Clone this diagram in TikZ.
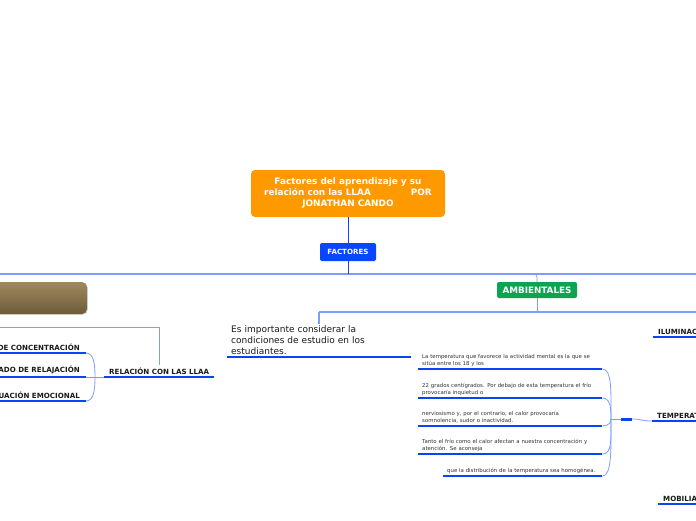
\documentclass[tikz,border=0pt]{standalone}
\usepackage{fontspec}
\setmainfont{DejaVu Sans}
\usetikzlibrary{shadows}
\definecolor{rootorange}{HTML}{FF9900}
\definecolor{factblue}{HTML}{0A46FF}
\definecolor{ulblue}{HTML}{0A45F5}
\definecolor{lightln}{HTML}{7C9CFF}
\definecolor{darkln}{HTML}{1040FF}
\definecolor{ambgreen}{HTML}{0BA552}
\definecolor{brownT}{HTML}{A08A5D}
\definecolor{brownB}{HTML}{6C5A3A}
\definecolor{txtdark}{HTML}{1A1A1A}
\definecolor{txtgray}{HTML}{333333}
\tikzset{
  rootbox/.style={fill=rootorange, rounded corners=4pt, minimum width=194pt, minimum height=47pt,
    text=white, align=center, inner sep=0pt, font=\fontsize{8.9}{11}\selectfont\bfseries},
  factbox/.style={fill=factblue, rounded corners=2pt, minimum width=56pt, minimum height=18pt,
    text=white, inner sep=0pt, font=\fontsize{7.1}{8}\selectfont\bfseries},
  ambbox/.style={fill=ambgreen, rounded corners=2pt, minimum width=80pt, minimum height=16pt,
    text=white, inner sep=0pt, font=\fontsize{8.8}{10}\selectfont\bfseries},
  brownbox/.style={top color=brownT, bottom color=brownB, draw=none, rounded corners=5pt,
    minimum width=116pt, minimum height=32pt,
    drop shadow={shadow xshift=0.8pt, shadow yshift=-0.8pt, opacity=0.3}},
  caplabel/.style={text=txtdark, inner xsep=5pt, inner ysep=2.5pt, font=\fontsize{7.1}{8}\selectfont\bfseries},
  estext/.style={text=txtdark, align=left, text width=176pt, inner xsep=4pt, inner ysep=2pt,
    font=\fontsize{9}{11}\selectfont},
  smalltext/.style={text=txtgray, align=left, inner xsep=4pt, inner ysep=2.2pt,
    font=\fontsize{5.4}{7}\selectfont},
  ul/.style={draw=ulblue, line width=2.8pt},
  ulseg/.style={draw=ulblue, line width=3pt},
  darkline/.style={draw=darkln, line width=0.9pt},
  thickl/.style={draw=lightln, line width=1.7pt},
  midl/.style={draw=lightln, line width=1.3pt},
  thinl/.style={draw=lightln, line width=0.8pt}
}
\begin{document}
\begin{tikzpicture}[x=1pt,y=-1pt]
\useasboundingbox (0,0) rectangle (696,520);
\clip (0,0) rectangle (696,520);
\fill[white] (0,0) rectangle (696,520);

% root and factores
\node[rootbox] (root) at (348,193.5) {Factores del aprendizaje y su\\relación con las LLAA\hspace{40pt}POR\\JONATHAN CANDO};
\node[factbox] (fact) at (348,252) {FACTORES};
\draw[darkline] (root.south) -- (fact.north);

% main horizontal line
\coordinate (h1L) at (-2,274);
\coordinate (h1R) at (698,274);
\coordinate (h1F) at (348,274);
\coordinate (h1A) at (525,274);
\draw[thickl] (h1L) -- (h1R);
\draw[darkline] (fact.south) -- (h1F);

% ambientales
\node[ambbox] (amb) at (537,290) {AMBIENTALES};
\draw[thinl, rounded corners=3pt] (h1A) -| (amb.north);

% brown box
\node[brownbox] (brown) at (29,298) {};

% second horizontal line
\coordinate (h2A) at (537,312);
\coordinate (h2L) at (319,312);
\coordinate (h2R) at (698,312);
\draw[thinl] (amb.south) -- (h2A);
\draw[midl] (h2L) -- (h2R);

% es importante
\node[estext, anchor=south west] (es) at (227,357) {Es importante considerar la\\condiciones de estudio en los\\estudiantes.};
\draw[ul] (es.south west) -- (es.south east);
\draw[thickl] (h2L) -- (h2L |- es.north);

% temperature items
\node[smalltext, text width=176pt, anchor=south west] (t1) at (418,369) {La temperatura que favorece la actividad mental es la que se\\sitúa entre los 18 y los};
\node[smalltext, text width=176pt, anchor=south west] (t2) at (418,398) {22 grados centígrados. Por debajo de esta temperatura el frío\\provocaría inquietud o};
\node[smalltext, text width=176pt, anchor=south west] (t3) at (418,426) {nerviosismo y, por el contrario, el calor provocaría\\somnolencia, sudor o inactividad.};
\node[smalltext, text width=176pt, anchor=south west] (t4) at (418,454) {Tanto el frío como el calor afectan a nuestra concentración y\\atención. Se aconseja};
\node[smalltext, text width=151pt, anchor=south west] (t5) at (443,476) {que la distribución de la temperatura sea homogénea.};
\foreach \n in {t1,t2,t3,t4,t5} {\draw[ul] (\n.south west) -- (\n.south east);}

\coordinate (tc) at (611,419);
\coordinate (tsa) at (621,419);
\coordinate (tsb) at (632,419);
\draw[thinl] (t1.south east) .. controls (612,369) and (611,392) .. (tc);
\draw[thinl] (t2.south east) .. controls (611,398) and (611,410) .. (tc);
\draw[thinl] (t3.south east) .. controls (609,426) and (611,422) .. (tc);
\draw[thinl] (t4.south east) .. controls (612,454) and (611,440) .. (tc);
\draw[thinl] (t5.south east) .. controls (612,476) and (611,448) .. (tc);
\draw[thinl] (tc) -- (tsa);
\draw[ulseg] (tsa) -- (tsb);

% right labels
\node[caplabel, anchor=south west] (ilum) at (653,337) {ILUMINACIÓN};
\node[caplabel, anchor=south west] (temp) at (652,421) {TEMPERATURA};
\node[caplabel, anchor=south west] (mob) at (658,504) {MOBILIARIO};
\foreach \n in {ilum,temp,mob} {\draw[ul] (\n.south west) -- (\n.south east);}
\draw[thinl] (tsb) .. controls (642,419) and (641,421) .. (temp.south west);

% relacion
\node[caplabel, anchor=south west] (rel) at (104,377) {RELACIÓN CON LAS LLAA};
\draw[ul] (rel.south west) -- (rel.south east);
\coordinate (l3L) at (-2,327);
\draw[thinl] (l3L) -| (rel.north);

\node[caplabel, anchor=south east, inner xsep=6pt] (c1) at (86,353) {DE CONCENTRACIÓN};
\node[caplabel, anchor=south east, inner xsep=6pt] (c2) at (86,377) {ADO DE RELAJACIÓN};
\node[caplabel, anchor=south east, inner xsep=6pt] (c3) at (86,401) {UACIÓN EMOCIONAL};
\foreach \n in {c1,c2,c3} {\draw[ul] ([xshift=-20pt]\n.south west) -- (\n.south east);}
\coordinate (lc) at (95,377);
\draw[thinl] (c1.south east) .. controls (94,353) and (95,365) .. (lc);
\draw[thinl] (c2.south east) -- (lc);
\draw[thinl] (c3.south east) .. controls (94,401) and (95,389) .. (lc);
\draw[thinl] (lc) -- (rel.south west);
\end{tikzpicture}
\end{document}
